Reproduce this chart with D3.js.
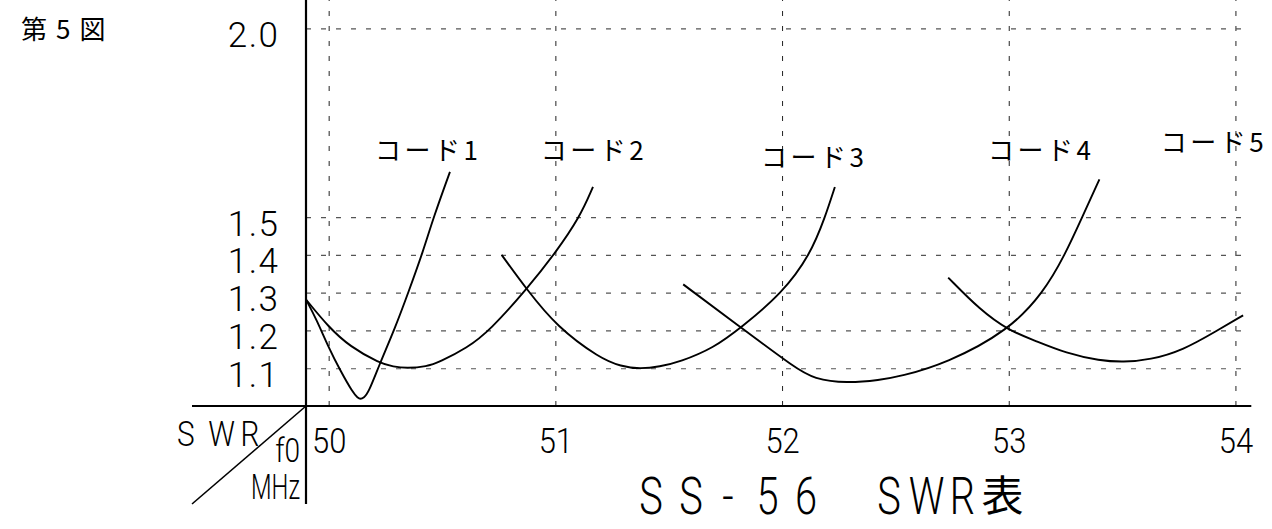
<!DOCTYPE html>
<html>
<head>
<meta charset="utf-8">
<script src="https://cdn.jsdelivr.net/npm/d3@7"></script>
<style>
  body { margin: 0; background: #fff; }
</style>
</head>
<body>
<div id="chart"></div>
<script>
// SWR readings for each code (frequency in MHz / SWR)
var code1Freq = [49.9, 49.947, 49.998, 50.05, 50.108, 50.128, 50.14, 50.155, 50.175, 50.226, 50.292, 50.351, 50.417, 50.461, 50.535];
var code1Swr = [1.282, 1.228, 1.157, 1.095, 1.034, 1.022, 1.018, 1.022, 1.034, 1.113, 1.205, 1.3, 1.41, 1.497, 1.62];

var code2Freq = [49.9, 49.998, 50.094, 50.226, 50.285, 50.344, 50.432, 50.49, 50.609, 50.711, 50.873, 51.0, 51.108, 51.166];
var code2Swr = [1.282, 1.21, 1.157, 1.113, 1.104, 1.1, 1.104, 1.117, 1.153, 1.2, 1.309, 1.405, 1.5, 1.58];

var code3Freq = [50.763, 50.873, 51.006, 51.197, 51.29, 51.373, 51.46, 51.55, 51.697, 51.82, 52.0, 52.124, 52.19, 52.233];
var code3Swr = [1.4, 1.309, 1.21, 1.126, 1.105, 1.098, 1.104, 1.117, 1.153, 1.208, 1.298, 1.4, 1.5, 1.58];

var code4Freq = [51.564, 51.82, 52.06, 52.14, 52.285, 52.432, 52.52, 52.726, 53.0, 53.153, 53.248, 53.324, 53.4];
var code4Swr = [1.322, 1.207, 1.1, 1.072, 1.06, 1.069, 1.078, 1.113, 1.2, 1.3, 1.4, 1.5, 1.6];

var code5Freq = [52.733, 52.874, 53.0, 53.108, 53.255, 53.402, 53.505, 53.623, 53.77, 53.917, 54.034];
var code5Swr = [1.34, 1.254, 1.2, 1.175, 1.139, 1.12, 1.116, 1.122, 1.148, 1.199, 1.24];

var codeNames = ["コード1", "コード2", "コード3", "コード4", "コード5"];
var labelFreq = [50.204, 50.936, 51.907, 52.908, 53.671];
var labelSwr = [1.651, 1.651, 1.634, 1.651, 1.673];

var freqTicks = [50, 51, 52, 53, 54];
var swrTicks = [1.1, 1.2, 1.3, 1.4, 1.5, 2.0];

var figLabel = "第5図";
var titleChars = ["S", "S", "-", "5", "6", "S", "W", "R"];
var titleMark = "表";

// chart size
var width = 1272;
var height = 529;
var latin = "Roboto, 'Liberation Sans', Arial, sans-serif";
var cjk = "'Noto Sans CJK JP', 'Noto Sans CJK SC', sans-serif";

var svg = d3
  .select("#chart")
  .append("svg")
  .attr("width", width)
  .attr("height", height);

// scales
var x = d3.scaleLinear().domain([49.9, 54.07]).range([306, 1251.3]);
var y = d3.scaleLinear().domain([1.0, 2.0]).range([406, 28.3]);

// vertical grid + frequency labels
var xGrid = svg
  .append("g")
  .attr("transform", "translate(0," + y(1) + ")")
  .call(
    d3.axisBottom(x)
      .tickValues(freqTicks)
      .tickSize(-y(1))
      .tickSizeOuter(0)
      .tickFormat(d3.format("d"))
  );
xGrid.select(".domain").remove();
xGrid
  .selectAll(".tick line")
  .attr("stroke", "#222")
  .attr("stroke-width", 1)
  .attr("stroke-dasharray", "5,10");
xGrid
  .selectAll(".tick text")
  .attr("y", 47)
  .attr("dy", 0)
  .attr("fill", "#000")
  .attr("font-family", latin)
  .attr("font-weight", 300)
  .attr("font-size", 36)
  .attr("transform", "scale(0.86,1)");

// horizontal grid + SWR labels
var yGrid = svg
  .append("g")
  .attr("transform", "translate(" + x(49.9) + ",0)")
  .call(
    d3.axisLeft(y)
      .tickValues(swrTicks)
      .tickSize(-(1248 - 306))
      .tickSizeOuter(0)
      .tickFormat(d3.format(".1f"))
  );
yGrid.select(".domain").remove();
yGrid
  .selectAll(".tick line")
  .attr("stroke", "#555")
  .attr("stroke-width", 1.2)
  .attr("stroke-dasharray", "5,10");
yGrid
  .selectAll(".tick text")
  .attr("x", -26.5)
  .attr("y", 18)
  .attr("dy", 0)
  .attr("fill", "#000")
  .attr("font-family", latin)
  .attr("font-weight", 300)
  .attr("font-size", 35)
  .attr("letter-spacing", 1.5);

// axes lines
svg.append("line")
  .attr("x1", 192).attr("x2", x(54.07))
  .attr("y1", y(1)).attr("y2", y(1))
  .attr("stroke", "#000").attr("stroke-width", 2.2);
svg.append("line")
  .attr("x1", x(49.9)).attr("x2", x(49.9))
  .attr("y1", 0).attr("y2", 504)
  .attr("stroke", "#000").attr("stroke-width", 2.2);
svg.append("line")
  .attr("x1", x(49.9)).attr("y1", y(1))
  .attr("x2", 192).attr("y2", 504)
  .attr("stroke", "#000").attr("stroke-width", 1.6);

// curves
var line = d3
  .line()
  .x(function (d) { return x(d[0]); })
  .y(function (d) { return y(d[1]); })
  .curve(d3.curveBasis);

var series = [
  d3.zip(code1Freq, code1Swr),
  d3.zip(code2Freq, code2Swr),
  d3.zip(code3Freq, code3Swr),
  d3.zip(code4Freq, code4Swr),
  d3.zip(code5Freq, code5Swr)
];

svg
  .selectAll(".curve")
  .data(series)
  .enter()
  .append("path")
  .attr("class", "curve")
  .attr("fill", "none")
  .attr("stroke", "#000")
  .attr("stroke-width", 1.9)
  .attr("d", line);

// code labels
svg
  .selectAll(".code-label")
  .data(codeNames)
  .enter()
  .append("text")
  .attr("class", "code-label")
  .attr("x", function (d, i) { return x(labelFreq[i]); })
  .attr("y", function (d, i) { return y(labelSwr[i]); })
  .attr("font-family", cjk)
  .attr("font-size", 26)
  .attr("letter-spacing", 3.5)
  .text(function (d) { return d; });

// figure number
svg.append("text")
  .attr("x", 21).attr("y", 39)
  .attr("font-family", cjk)
  .attr("font-size", 26)
  .attr("letter-spacing", 9)
  .text(figLabel);

// corner labels
var swrCenters = [185.8, 221.7, 250];
svg.append("text")
  .attr("transform", "scale(0.85,1)")
  .attr("x", swrCenters.map(function (c) { return c / 0.85; }).join(" "))
  .attr("y", 446)
  .attr("text-anchor", "middle")
  .attr("font-family", latin)
  .attr("font-weight", 300)
  .attr("font-size", 35)
  .text("SWR");
svg.append("text")
  .attr("transform", "translate(300,461.5) scale(0.85,1)")
  .attr("text-anchor", "end")
  .attr("font-family", latin)
  .attr("font-weight", 300)
  .attr("font-size", 33)
  .text("f0");
svg.append("text")
  .attr("transform", "translate(300,499) scale(0.68,1)")
  .attr("text-anchor", "end")
  .attr("font-family", latin)
  .attr("font-weight", 300)
  .attr("font-size", 35)
  .text("MHz");

// title
var titleCenters = [651, 691, 728, 767.5, 806, 889, 926.7, 962.5];
svg.append("text")
  .attr("transform", "scale(0.78,1)")
  .attr("x", titleCenters.map(function (c) { return c / 0.78; }).join(" "))
  .attr("y", 514)
  .attr("text-anchor", "middle")
  .attr("font-family", latin)
  .attr("font-weight", 300)
  .attr("font-size", 51)
  .text(titleChars.join(""));
svg.append("text")
  .attr("x", 1002.5).attr("y", 511)
  .attr("text-anchor", "middle")
  .attr("font-family", cjk)
  .attr("font-size", 42)
  .text(titleMark);
</script>
</body>
</html>
